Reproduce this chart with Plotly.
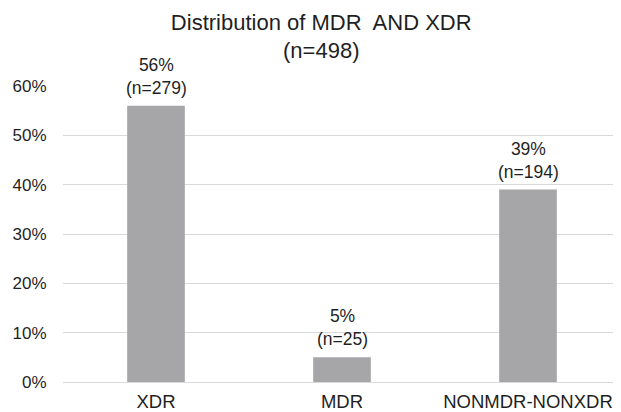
import plotly.graph_objects as go

categories = ["XDR", "MDR", "NONMDR-NONXDR"]
shares = [0.56, 0.05, 0.39]
counts = [279, 25, 194]
y_ticks = [0, 0.1, 0.2, 0.3, 0.4, 0.5, 0.6]
y_tick_labels = ["0%", "10%", "20%", "30%", "40%", "50%", "60%"]

labels = [f"{round(s*100)}%<br>(n={n})" for s, n in zip(shares, counts)]

FONT = "Liberation Sans, Arial, sans-serif"
TXT = "#1F1F1F"

fig = go.Figure(
    go.Bar(
        x=categories,
        y=shares,
        width=0.31,
        marker=dict(color="#A6A6A8", line=dict(width=0)),
        hoverinfo="skip",
    )
)

for c, s, lab in zip(categories, shares, labels):
    fig.add_annotation(
        x=c, y=s, text=lab, showarrow=False,
        xanchor="center", yanchor="bottom", yshift=6,
        font=dict(family=FONT, size=17.5, color=TXT),
    )

fig.update_layout(
    width=613,
    height=404,
    margin=dict(l=55, r=0, t=78, b=30),
    paper_bgcolor="white",
    plot_bgcolor="white",
    showlegend=False,
    title=dict(
        text="Distribution of MDR  AND XDR<br>(n=498)",
        x=0.511,
        xanchor="center",
        y=0.946,
        yanchor="middle",
        font=dict(family=FONT, size=22, color=TXT),
    ),
)

fig.update_xaxes(
    showgrid=False,
    showline=False,
    ticks="outside",
    ticklen=3,
    tickcolor="rgba(0,0,0,0)",
    tickfont=dict(family=FONT, size=18.5, color=TXT),
)
fig.update_yaxes(
    range=[0, 0.6],
    tickvals=y_ticks,
    ticktext=y_tick_labels,
    showgrid=True,
    gridcolor="#D9D9D9",
    gridwidth=1,
    zeroline=True,
    zerolinecolor="#D9D9D9",
    zerolinewidth=1,
    showline=False,
    ticks="outside",
    ticklen=12,
    tickcolor="rgba(0,0,0,0)",
    tickfont=dict(family=FONT, size=17, color=TXT),
)

fig.write_html("out.html")
